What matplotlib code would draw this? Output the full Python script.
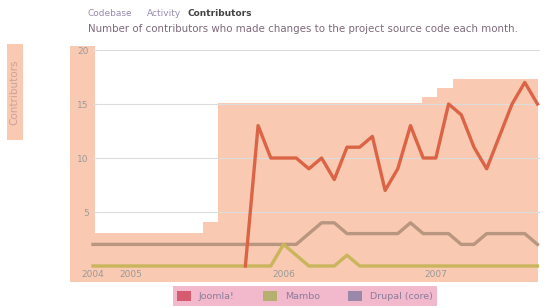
import matplotlib
matplotlib.use("Agg")
import matplotlib.pyplot as plt
from matplotlib.patches import Rectangle, Patch
import numpy as np

W, H = 544, 308

# months counted from Oct 2005 (= 0); axis starts Oct 2004 (= -12)
months = np.arange(-12, 24)
joomla = [0, 13, 10, 10, 10, 9, 10, 8, 11, 11, 12, 7,
          9, 13, 10, 10, 15, 14, 11, 9, 12, 15, 17, 15]
mambo = [0] * 12 + [0, 0, 0, 2, 1, 0, 0, 0, 1, 0, 0, 0,
                    0, 0, 0, 0, 0, 0, 0, 0, 0, 0, 0, 0]
drupal = [2] * 12 + [2, 2, 2, 2, 2, 3, 4, 4, 3, 3, 3, 3,
                     3, 4, 3, 3, 3, 2, 2, 3, 3, 3, 3, 2]
year_ticks = [-12, -9, 3, 15]
year_labels = ["2004", "2005", "2006", "2007"]
series_names = ["Joomla!", "Mambo", "Drupal (core)"]

fig = plt.figure(figsize=(W / 100, H / 100), dpi=100)
fig.patch.set_facecolor("white")


def px_box(x0, y0, x1, y1, color, z=-1):
    # pixel box (top-left origin) -> figure fraction rectangle
    fig.add_artist(Rectangle((x0 / W, 1 - y1 / H), (x1 - x0) / W, (y1 - y0) / H,
                             transform=fig.transFigure, facecolor=color,
                             edgecolor="none", zorder=z))


peach = "#f9c9b1"
for b in [(70, 46, 95, 282), (70, 233, 245, 282), (203, 222, 245, 233),
          (218, 103, 422, 282), (422, 97, 437, 282), (437, 88, 453, 282),
          (453, 79, 538, 282), (7, 44, 23, 140)]:
    px_box(*b, peach)

ax = fig.add_axes([93 / W, 1 - 266 / H, 447 / W, 216 / H])
ax.set_facecolor("none")

ax.plot(months[12:], joomla, color="#dc6446", lw=2.4, zorder=3, clip_on=False)
ax.plot(months, drupal, color="#b9967f", lw=2.4, zorder=2, clip_on=False)
ax.plot(months, mambo, color="#c9b55c", lw=2.4, zorder=2, clip_on=False)

ax.set_xlim(-12, 23.2)
ax.set_ylim(0, 20)
ax.set_yticks([5, 10, 15, 20])
ax.set_xticks(year_ticks)
ax.set_xticklabels(year_labels)
ax.grid(axis="y", color="#dcdcdc", lw=0.8)
ax.tick_params(length=0, labelsize=6.5, labelcolor="#9a9a9a", pad=3)
for s in ax.spines.values():
    s.set_visible(False)

fig.text(14 / W, 1 - 92 / H, "Contributors", rotation=90, ha="center",
         va="center", fontsize=7.5, color="#c9a49a")

fig.text(88 / W, 1 - 14 / H, "Codebase", fontsize=6.5, color="#9a8cb0", va="center")
fig.text(147 / W, 1 - 14 / H, "Activity", fontsize=6.5, color="#9a8cb0", va="center")
fig.text(187 / W, 1 - 14 / H, "Contributors", fontsize=6.5, color="#444444",
         va="center", fontweight="bold")
fig.text(88 / W, 1 - 29 / H,
         "Number of contributors who made changes to the project source code each month.",
         fontsize=7.4, color="#7d6a7a", va="center")

handles = [Patch(facecolor=c, edgecolor="none")
           for c in ["#d65a70", "#b5b070", "#9a88a8"]]
leg = fig.legend(handles, series_names, loc="center",
                 bbox_to_anchor=(305 / W, 1 - 296 / H), ncol=3, fontsize=6.8,
                 frameon=True, facecolor="#f2b8cc", edgecolor="none",
                 handlelength=1.5, handleheight=1.2, columnspacing=3.0,
                 borderpad=0.5, fancybox=False)
leg.get_frame().set_alpha(1)
for t in leg.get_texts():
    t.set_color("#8c7c99")

fig.savefig("out.png", dpi=100)
